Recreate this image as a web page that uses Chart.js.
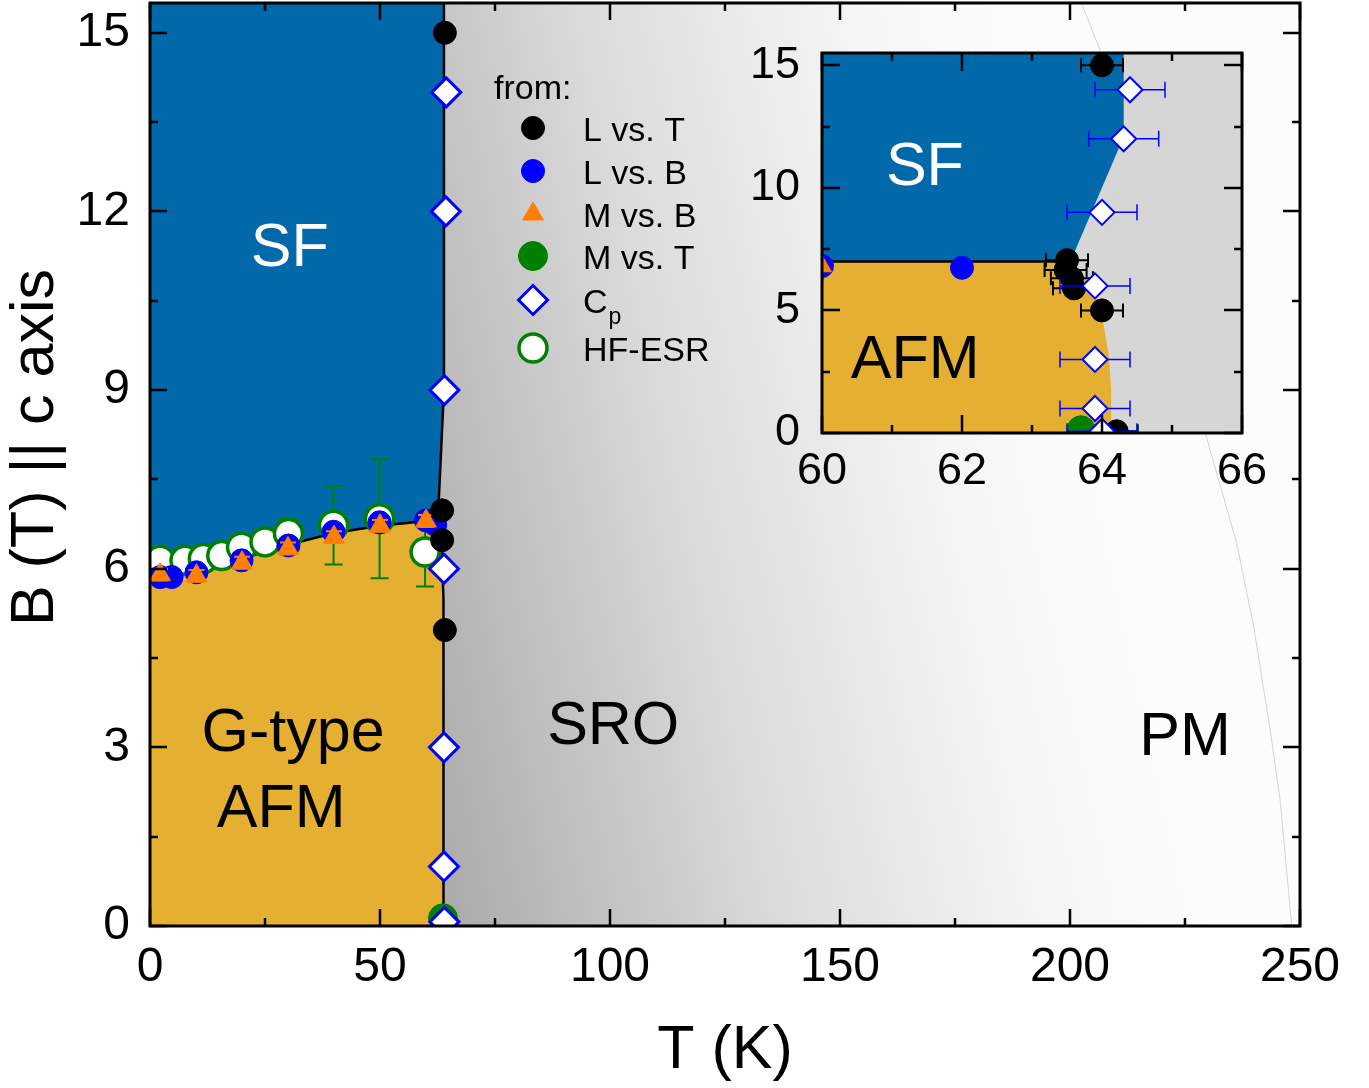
<!DOCTYPE html>
<html>
<head>
<meta charset="utf-8">
<script src="https://cdn.jsdelivr.net/npm/chart.js@4.4.0/dist/chart.umd.min.js"></script>
<style>
  body { margin: 0; background: #fff; }
  #wrap { position: relative; width: 1369px; height: 1088px; }
  #main { position: absolute; left: 0; top: 0; }
  #inset { position: absolute; left: 740px; top: 40px; }
</style>
</head>
<body>
<div id="wrap">
  <canvas id="main" width="1369" height="1088"></canvas>
  <canvas id="inset" width="560" height="470"></canvas>
</div>
<script>
// Фазовая диаграмма B-T: основной график + вставка

// --- оси ---
const B_MAX = 15.5;
const xTicksMain = [0, 50, 100, 150, 200, 250];
const xMinorMain = [25, 75, 125, 175, 225];
const yTicksMain = [0, 3, 6, 9, 12, 15];
const yMinorMain = [1.5, 4.5, 7.5, 10.5, 13.5];
const xTicksInset = [60, 62, 64, 66];
const xMinorInset = [61, 63, 65];
const yTicksInset = [0, 5, 10, 15];
const yMinorInset = [2.5, 7.5, 12.5];

// --- экспериментальные точки ---
// L vs. T (основной график)
const lvtT = [64.1, 63.5, 63.5, 64.1, 64.2];
const lvtB = [15, 6.98, 6.48, 4.97, 0.07];
// L vs. T (вставка, подробнее)
const lvtInT = [64.0, 63.5, 63.48, 63.57, 63.6, 64.0, 64.21];
const lvtInB = [15, 7.05, 6.65, 6.31, 5.9, 5.0, 0.07];
const lvtInErr = [0.3, 0.3, 0.3, 0.3, 0.3, 0.3, 0.3];
// L vs. B
const lvbT = [2.2, 4.7, 10.1, 19.9, 30.1, 39.9, 49.9, 60.0, 62.0];
const lvbB = [5.86, 5.86, 5.94, 6.14, 6.39, 6.62, 6.78, 6.81, 6.74];
// M vs. B
const mvbT = [2.2, 10.1, 20.0, 30.0, 40.0, 50.0, 60.0];
const mvbB = [5.9, 5.88, 6.1, 6.34, 6.53, 6.72, 6.8];
const mvbErr = [0.1, 0.1, 0.1, 0.1, 0.1, 0.1, 0.1];
// M vs. T
const mvtT = [63.7];
const mvtB = [0.13];
// Cp
const cpT = [64.4, 64.31, 64.0, 63.9, 63.9, 63.9, 64.0];
const cpB = [14, 12, 9, 6, 3, 1, 0.07];
const cpErr = [0.5, 0.5, 0.5, 0.5, 0.5, 0.5, 0.5];
// HF-ESR
const esrT = [0.5, 2.2, 7.6, 11.6, 15.6, 19.9, 25.0, 30.1, 39.9, 49.9, 59.8];
const esrB = [6.1, 6.14, 6.14, 6.17, 6.22, 6.36, 6.45, 6.59, 6.73, 6.84, 6.28];
const esrErr = [0.1, 0.1, 0.1, 0.1, 0.1, 0.1, 0.1, 0.25, 0.66, 1.0, 0.58];

// --- границы фаз (основной график) ---
const sfAfmT = [0, 10, 20, 30, 40, 50, 60, 62.6];
const sfAfmB = [5.95, 6.02, 6.17, 6.4, 6.6, 6.72, 6.8, 6.86];
const sfEdgeT = [62.6, 63.9, 63.9];
const sfEdgeB = [6.86, 9.0, 15.5];
const afmEdgeT = [63.9, 63.9, 63.7, 63.4, 62.6];
const afmEdgeB = [0, 4.5, 5.5, 6.3, 6.86];
const pmEdgeT = [202.5, 207.6, 213, 219, 224.5, 229.7, 236.2, 240, 243.5, 245.7, 248.2];
const pmEdgeB = [15.5, 14.5, 13, 11.5, 10, 8.2, 6.44, 5.0, 3.3, 2.1, 0];

// --- границы фаз (вставка) ---
const inSfAfmT = [60, 63.5];
const inSfAfmB = [7.0, 7.0];
const inSfEdgeT = [63.5, 63.6, 64.31, 64.31];
const inSfEdgeB = [7.0, 7.33, 12.08, 15.5];
const inAfmEdgeT = [64.13, 64.13, 64.1, 64.0, 63.88, 63.52, 63.5];
const inAfmEdgeB = [0, 1.76, 3.12, 4.75, 5.97, 6.92, 7.0];

const FONT = '"Liberation Sans", Arial, Helvetica, sans-serif';
const SF_COLOR = '#0169aa';
const AFM_COLOR = '#e5af31';

Chart.defaults.font.family = FONT;
Chart.defaults.color = '#000';

const pts = (xs, ys) => xs.map((x, i) => ({ x: x, y: ys[i] }));

// многоугольники областей
const sfPoly = pts(sfAfmT, sfAfmB).concat(pts(sfEdgeT.slice(1), sfEdgeB.slice(1)), [{ x: 0, y: B_MAX }]);
const afmPoly = [{ x: 0, y: 0 }].concat(pts(afmEdgeT, afmEdgeB), pts(sfAfmT, sfAfmB).reverse().slice(1));
const pmPoly = pts(pmEdgeT, pmEdgeB).concat([{ x: 250, y: 0 }, { x: 250, y: B_MAX }]);
const edgeLine = pts(afmEdgeT, afmEdgeB).concat(pts(sfEdgeT.slice(1), sfEdgeB.slice(1)));

const inSfPoly = pts(inSfAfmT, inSfAfmB).concat(pts(inSfEdgeT.slice(1), inSfEdgeB.slice(1)), [{ x: 60, y: B_MAX }]);
const inAfmPoly = [{ x: 60, y: 0 }].concat(pts(inAfmEdgeT, inAfmEdgeB), [{ x: 60, y: 7.0 }]);

// стили маркеров
const mainStyle = {
  lvt: { pointStyle: 'circle', radius: 11.5, bg: '#000', border: '#000', bw: 1 },
  lvb: { pointStyle: 'circle', radius: 11.5, bg: '#0000ff', border: '#0000ff', bw: 1 },
  mvb: { pointStyle: 'triangle', radius: 12, bg: '#ff7f00', border: '#ff7f00', bw: 1 },
  mvt: { pointStyle: 'circle', radius: 14.5, bg: '#008000', border: '#008000', bw: 1 },
  cp: { pointStyle: 'rectRot', radius: 14.5, bg: '#ffffff', border: '#0000ff', bw: 3 },
  esr: { pointStyle: 'circle', radius: 14, bg: '#ffffff', border: '#008000', bw: 3.5 }
};
const insetStyle = {
  lvt: { pointStyle: 'circle', radius: 11.5, bg: '#000', border: '#000', bw: 1 },
  lvb: { pointStyle: 'circle', radius: 11.5, bg: '#0000ff', border: '#0000ff', bw: 1 },
  mvb: { pointStyle: 'triangle', radius: 11, bg: '#ff7f00', border: '#ff7f00', bw: 1 },
  mvt: { pointStyle: 'circle', radius: 14, bg: '#008000', border: '#008000', bw: 1 },
  cp: { pointStyle: 'rectRot', radius: 12.5, bg: '#ffffff', border: '#0000ff', bw: 2 },
  esr: { pointStyle: 'circle', radius: 14, bg: '#ffffff', border: '#008000', bw: 3 }
};

function markerSet(label, data, st, order, extra) {
  return Object.assign({
    label: label, data: data, order: order, showLine: false, fill: false, clip: 0,
    pointStyle: st.pointStyle, pointRadius: st.radius, pointHoverRadius: st.radius,
    pointBackgroundColor: st.bg, pointBorderColor: st.border, pointBorderWidth: st.bw
  }, extra || {});
}

function areaSet(label, data, color, order, extra) {
  return Object.assign({
    label: label, data: data, order: order, fill: 'shape', backgroundColor: color,
    borderWidth: 0, pointRadius: 0, pointHoverRadius: 0, tension: 0
  }, extra || {});
}

function lineSet(label, data, order) {
  return {
    label: label, data: data, order: order, fill: false, borderColor: '#000',
    borderWidth: 2.5, pointRadius: 0, pointHoverRadius: 0, tension: 0
  };
}

// усы погрешностей, рисуются перед своим набором точек
const errorBarsPlugin = {
  id: 'errorBars',
  beforeDatasetDraw(chart, args) {
    const ds = chart.data.datasets[args.index];
    if (!ds.errX && !ds.errY) return;
    const ctx = chart.ctx, a = chart.chartArea;
    const sx = chart.scales.x, sy = chart.scales.y;
    const cap = ds.errCap / 2;
    ctx.save();
    ctx.beginPath();
    ctx.rect(a.left, a.top, a.right - a.left, a.bottom - a.top);
    ctx.clip();
    ctx.strokeStyle = ds.errColor;
    ctx.lineWidth = ds.errWidth;
    ds.data.forEach((p, i) => {
      const px = sx.getPixelForValue(p.x), py = sy.getPixelForValue(p.y);
      ctx.beginPath();
      if (ds.errX) {
        const l = sx.getPixelForValue(p.x - ds.errX[i]), r = sx.getPixelForValue(p.x + ds.errX[i]);
        ctx.moveTo(l, py); ctx.lineTo(r, py);
        ctx.moveTo(l, py - cap); ctx.lineTo(l, py + cap);
        ctx.moveTo(r, py - cap); ctx.lineTo(r, py + cap);
      }
      if (ds.errY) {
        const t = sy.getPixelForValue(p.y + ds.errY[i]), b = sy.getPixelForValue(p.y - ds.errY[i]);
        ctx.moveTo(px, t); ctx.lineTo(px, b);
        ctx.moveTo(px - cap, t); ctx.lineTo(px + cap, t);
        ctx.moveTo(px - cap, b); ctx.lineTo(px + cap, b);
      }
      ctx.stroke();
    });
    ctx.restore();
  }
};

// рамка и засечки внутрь со всех сторон
function frameTicks(xMaj, xMin, yMaj, yMin, majLen, minLen) {
  return {
    id: 'frameTicks',
    afterDraw(chart) {
      const ctx = chart.ctx, a = chart.chartArea;
      const sx = chart.scales.x, sy = chart.scales.y;
      ctx.save();
      ctx.strokeStyle = '#000';
      ctx.lineWidth = 2.5;
      ctx.beginPath();
      const vert = (vals, len) => vals.forEach(v => {
        const px = Math.round(sx.getPixelForValue(v));
        ctx.moveTo(px, a.bottom); ctx.lineTo(px, a.bottom - len);
        ctx.moveTo(px, a.top); ctx.lineTo(px, a.top + len);
      });
      const hor = (vals, len) => vals.forEach(v => {
        const py = Math.round(sy.getPixelForValue(v));
        ctx.moveTo(a.left, py); ctx.lineTo(a.left + len, py);
        ctx.moveTo(a.right, py); ctx.lineTo(a.right - len, py);
      });
      vert(xMaj, majLen); vert(xMin, minLen);
      hor(yMaj, majLen); hor(yMin, minLen);
      ctx.stroke();
      ctx.lineWidth = 3;
      ctx.strokeRect(a.left, a.top, a.right - a.left, a.bottom - a.top);
      ctx.restore();
    }
  };
}

// подписи фаз, координаты в единицах осей (центр заглавных букв)
function phaseText(labels) {
  return {
    id: 'phaseText',
    afterDatasetsDraw(chart) {
      const ctx = chart.ctx;
      ctx.save();
      ctx.textAlign = 'center';
      ctx.textBaseline = 'alphabetic';
      labels.forEach(l => {
        ctx.font = l.size + 'px ' + FONT;
        ctx.fillStyle = l.color;
        const px = chart.scales.x.getPixelForValue(l.t);
        const py = chart.scales.y.getPixelForValue(l.b) + 0.358 * l.size;
        ctx.fillText(l.text, px, py);
      });
      ctx.restore();
    }
  };
}

const mainLabels = [
  { text: 'SF', t: 30.4, b: 11.45, size: 61, color: '#fff' },
  { text: 'G-type', t: 31.1, b: 3.3, size: 61, color: '#000' },
  { text: 'AFM', t: 28.5, b: 2.03, size: 61, color: '#000' },
  { text: 'SRO', t: 100.7, b: 3.42, size: 61, color: '#000' },
  { text: 'PM', t: 225, b: 3.24, size: 61, color: '#000' }
];
const insetLabels = [
  { text: 'SF', t: 61.47, b: 11.0, size: 61, color: '#fff' },
  { text: 'AFM', t: 61.33, b: 3.12, size: 61, color: '#000' }
];

// легенда "from:"
const legendRows = [
  { text: 'L vs. T', st: mainStyle.lvt },
  { text: 'L vs. B', st: mainStyle.lvb },
  { text: 'M vs. B', st: mainStyle.mvb },
  { text: 'M vs. T', st: mainStyle.mvt },
  { text: 'C', sub: 'p', st: mainStyle.cp },
  { text: 'HF-ESR', st: mainStyle.esr }
];
const legendRowY = [129, 172, 215, 257, 301, 349];

function drawMarker(ctx, st, x, y) {
  ctx.fillStyle = st.bg;
  ctx.strokeStyle = st.border;
  ctx.lineWidth = st.bw;
  Chart.helpers.drawPoint(ctx, { pointStyle: st.pointStyle, radius: st.radius, borderWidth: st.bw, rotation: 0 }, x, y);
}

const legendPlugin = {
  id: 'fromLegend',
  afterDatasetsDraw(chart) {
    const ctx = chart.ctx;
    ctx.save();
    ctx.textAlign = 'left';
    ctx.textBaseline = 'alphabetic';
    ctx.fillStyle = '#000';
    ctx.font = '34px ' + FONT;
    ctx.fillText('from:', 494, 87 + 12);
    legendRows.forEach((row, i) => {
      const y = legendRowY[i];
      drawMarker(ctx, row.st, 533, y - 1);
      ctx.fillStyle = '#000';
      ctx.font = '34px ' + FONT;
      ctx.fillText(row.text, 583, y + 12);
      if (row.sub) {
        const w = ctx.measureText(row.text).width;
        ctx.font = '23px ' + FONT;
        ctx.fillText(row.sub, 583 + w + 1, y + 23);
      }
    });
    ctx.restore();
  }
};

// фон области SRO - серый градиент
const mainBgPlugin = {
  id: 'mainBg',
  beforeDatasetsDraw(chart) {
    const ctx = chart.ctx, a = chart.chartArea;
    const x0 = chart.scales.x.getPixelForValue(64), y0 = a.bottom;
    const g = ctx.createLinearGradient(x0, y0, x0 + 730, y0 - 160);
    g.addColorStop(0, '#aaaaaa');
    g.addColorStop(0.45, '#dcdcdc');
    g.addColorStop(0.8, '#f6f6f6');
    g.addColorStop(1, '#fcfcfc');
    ctx.save();
    ctx.fillStyle = g;
    ctx.fillRect(a.left, a.top, a.right - a.left, a.bottom - a.top);
    ctx.restore();
  }
};

const insetBgPlugin = {
  id: 'insetBg',
  beforeDatasetsDraw(chart) {
    const ctx = chart.ctx, a = chart.chartArea;
    ctx.save();
    ctx.fillStyle = '#d6d6d6';
    ctx.fillRect(a.left, a.top, a.right - a.left, a.bottom - a.top);
    ctx.restore();
  }
};

// --- основной график ---
const mainDatasets = [
  areaSet('PM', pmPoly, '#fcfcfc', 20, { borderWidth: 1, borderColor: '#d4d4d4' }),
  areaSet('SF', sfPoly, SF_COLOR, 19),
  areaSet('AFM', afmPoly, AFM_COLOR, 18),
  lineSet('SF-AFM', pts(sfAfmT, sfAfmB), 17),
  lineSet('edge', edgeLine, 16),
  markerSet('HF-ESR', pts(esrT, esrB), mainStyle.esr, 6,
    { errY: esrErr, errColor: '#008000', errWidth: 2, errCap: 18 }),
  markerSet('L vs. B', pts(lvbT, lvbB), mainStyle.lvb, 5),
  markerSet('M vs. B', pts(mvbT, mvbB), mainStyle.mvb, 4,
    { errY: mvbErr, errColor: '#ff7f00', errWidth: 2, errCap: 16 }),
  markerSet('L vs. T', pts(lvtT, lvtB), mainStyle.lvt, 3),
  markerSet('M vs. T', pts(mvtT, mvtB), mainStyle.mvt, 2),
  markerSet('Cp', pts(cpT, cpB), mainStyle.cp, 1)
];

new Chart(document.getElementById('main'), {
  type: 'line',
  data: { datasets: mainDatasets },
  options: {
    responsive: false,
    devicePixelRatio: 1,
    animation: false,
    events: [],
    layout: { autoPadding: false, padding: { left: 0, top: 3, right: 69, bottom: 0 } },
    plugins: { legend: { display: false }, tooltip: { enabled: false } },
    scales: {
      x: {
        type: 'linear', min: 0, max: 250,
        afterBuildTicks: s => { s.ticks = xTicksMain.map(v => ({ value: v })); },
        afterFit: s => { s.height = 162; s.paddingLeft = 0; s.paddingRight = 0; },
        grid: { display: false, drawTicks: false },
        border: { display: false },
        ticks: { font: { size: 48 }, color: '#000', padding: 13, maxRotation: 0, autoSkip: false },
        title: { display: true, text: 'T (K)', font: { size: 61 }, color: '#000', padding: { top: 0, bottom: 0 } }
      },
      y: {
        type: 'linear', min: 0, max: B_MAX,
        afterBuildTicks: s => { s.ticks = yTicksMain.map(v => ({ value: v })); },
        afterFit: s => { s.width = 150; s.paddingTop = 0; s.paddingBottom = 0; },
        grid: { display: false, drawTicks: false },
        border: { display: false },
        ticks: { font: { size: 48 }, color: '#000', padding: 20, autoSkip: false },
        title: { display: true, text: '  B (T) || c axis', font: { size: 61 }, color: '#000', padding: { top: 0, bottom: 0 } }
      }
    }
  },
  plugins: [mainBgPlugin, errorBarsPlugin, phaseText(mainLabels), legendPlugin,
    frameTicks(xTicksMain, xMinorMain, yTicksMain, yMinorMain, 17, 8)]
});

// --- вставка 60-66 K ---
const insetDatasets = [
  areaSet('SF', inSfPoly, SF_COLOR, 19),
  areaSet('AFM', inAfmPoly, AFM_COLOR, 18),
  lineSet('SF-AFM', pts(inSfAfmT, inSfAfmB), 17),
  markerSet('HF-ESR', pts(esrT, esrB), insetStyle.esr, 6),
  markerSet('L vs. B', pts(lvbT, lvbB), insetStyle.lvb, 5),
  markerSet('M vs. B', pts(mvbT, mvbB), insetStyle.mvb, 4),
  markerSet('L vs. T', pts(lvtInT, lvtInB), insetStyle.lvt, 3,
    { errX: lvtInErr, errColor: '#000', errWidth: 2, errCap: 14 }),
  markerSet('M vs. T', pts(mvtT, mvtB), insetStyle.mvt, 2),
  markerSet('Cp', pts(cpT, cpB), insetStyle.cp, 1,
    { errX: cpErr, errColor: '#0000ff', errWidth: 1.5, errCap: 16 })
];

new Chart(document.getElementById('inset'), {
  type: 'line',
  data: { datasets: insetDatasets },
  options: {
    responsive: false,
    devicePixelRatio: 1,
    animation: false,
    events: [],
    layout: { autoPadding: false, padding: { left: 0, top: 13, right: 58, bottom: 0 } },
    plugins: { legend: { display: false }, tooltip: { enabled: false } },
    scales: {
      x: {
        type: 'linear', min: 60, max: 66,
        afterBuildTicks: s => { s.ticks = xTicksInset.map(v => ({ value: v })); },
        afterFit: s => { s.height = 77; s.paddingLeft = 0; s.paddingRight = 0; },
        grid: { display: false, drawTicks: false },
        border: { display: false },
        ticks: { font: { size: 45 }, color: '#000', padding: 12, maxRotation: 0, autoSkip: false }
      },
      y: {
        type: 'linear', min: 0, max: B_MAX,
        afterBuildTicks: s => { s.ticks = yTicksInset.map(v => ({ value: v })); },
        afterFit: s => { s.width = 82; s.paddingTop = 0; s.paddingBottom = 0; },
        grid: { display: false, drawTicks: false },
        border: { display: false },
        ticks: { font: { size: 45 }, color: '#000', padding: 22, autoSkip: false }
      }
    }
  },
  plugins: [insetBgPlugin, errorBarsPlugin, phaseText(insetLabels),
    frameTicks(xTicksInset, xMinorInset, yTicksInset, yMinorInset, 18, 8)]
});
</script>
</body>
</html>
